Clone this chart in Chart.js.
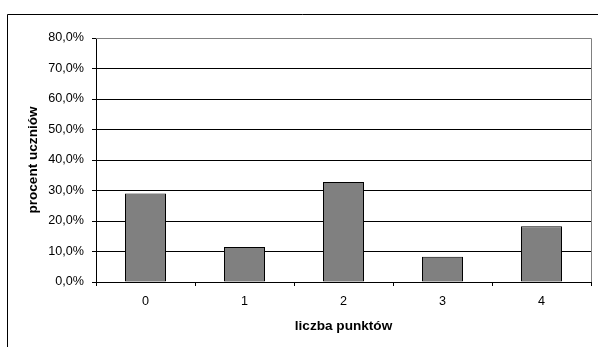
<!DOCTYPE html>
<html><head><meta charset="utf-8">
<script src="https://cdn.jsdelivr.net/npm/chart.js@4/dist/chart.umd.min.js"></script>
<style>html,body{margin:0;padding:0;background:#fff;}#wrap{width:598px;height:347px;position:relative;}</style>
</head><body><div id="wrap"><canvas id="c" width="598" height="347"></canvas></div>
<script>
const categories = ['0', '1', '2', '3', '4'];
const percentValues = [29.0, 11.5, 32.8, 8.3, 18.3];
const yTicks = [0, 10, 20, 30, 40, 50, 60, 70, 80];
const xTitle = 'liczba punktów';
const yTitle = 'procent uczniów';

const FONT = "'Liberation Sans', Arial, sans-serif";
const FS = 12.6;
const TFS = 13.6;

const framePlugin = {
  id: 'frame',
  afterDraw(chart) {
    const ctx = chart.ctx, a = chart.chartArea;
    ctx.save();
    ctx.strokeStyle = '#808080';
    ctx.lineWidth = 1;
    ctx.beginPath();
    ctx.moveTo(a.left, Math.round(a.top) + 0.5);
    ctx.lineTo(Math.round(a.right) + 0.5, Math.round(a.top) + 0.5);
    ctx.lineTo(Math.round(a.right) + 0.5, a.bottom);
    ctx.stroke();
    ctx.strokeStyle = '#000';
    ctx.beginPath();
    ctx.moveTo(7.5, 347);
    ctx.lineTo(7.5, 14.5);
    ctx.lineTo(598, 14.5);
    ctx.stroke();
    ctx.restore();
  }
};

new Chart(document.getElementById('c'), {
  type: 'bar',
  data: {
    labels: categories,
    datasets: [{
      data: percentValues,
      backgroundColor: '#808080',
      borderColor: '#000',
      borderWidth: 1,
      borderSkipped: false,
      barPercentage: 41 / 99,
      categoryPercentage: 1.0
    }]
  },
  options: {
    responsive: false,
    animation: false,
    devicePixelRatio: 1,
    layout: { padding: { left: 0, top: 38, right: 7, bottom: 0 } },
    plugins: { legend: { display: false }, tooltip: { enabled: false } },
    scales: {
      x: {
        afterFit(s) { s.height = 65; },
        grid: { offset: true, drawOnChartArea: false, tickLength: 4, color: '#000', tickColor: '#000' },
        border: { color: '#000' },
        ticks: { color: '#000', font: { family: FONT, size: FS }, padding: 8 },
        title: { display: true, text: xTitle, color: '#000', font: { family: FONT, size: TFS, weight: 'bold' }, padding: { top: 13, bottom: 13 } }
      },
      y: {
        min: 0, max: 80,
        afterFit(s) { s.width = 96; },
        afterBuildTicks(s) { s.ticks = yTicks.map(v => ({ value: v })); },
        grid: { color: '#000', tickColor: '#000', tickLength: 4 },
        border: { color: '#000' },
        ticks: {
          color: '#000', font: { family: FONT, size: FS }, padding: 8,
          callback: v => v.toFixed(1).replace('.', ',') + '%'
        },
        title: { display: true, text: yTitle, color: '#000', font: { family: FONT, size: TFS, weight: 'bold' }, padding: { top: 25.4, bottom: 0 } }
      }
    }
  },
  plugins: [framePlugin]
});
</script></body></html>
